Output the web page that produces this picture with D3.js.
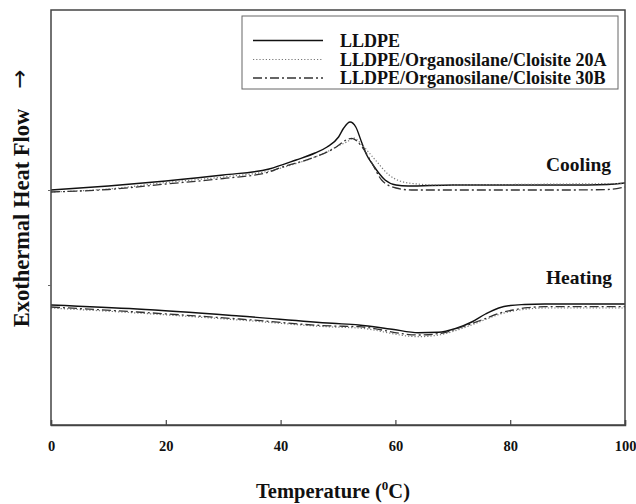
<!DOCTYPE html>
<html>
<head>
<meta charset="utf-8">
<script src="https://cdn.jsdelivr.net/npm/d3@7"></script>
<style>
  html, body { margin: 0; padding: 0; background: #fff; }
  svg { display: block; }
  text { font-family: "Liberation Serif", "Times New Roman", serif; font-weight: bold; fill: #111; }
</style>
</head>
<body>
<svg id="chart" width="636" height="504"></svg>
<script>
// ---------------- data (temperature in °C, heat flow in arbitrary units) ----------------
const seriesNames = ["LLDPE", "LLDPE/Organosilane/Cloisite 20A", "LLDPE/Organosilane/Cloisite 30B"];
const xTicks = [0, 20, 40, 60, 80, 100];

// Cooling curves
const coolLLDPE = [[0,235],[10,239],[20,244],[30,250],[38,256],[42.7,265],[46,272],[48.1,278],[50.1,288],[51,297],[52.1,303],[53.1,298],[54.1,283],[55,270],[56.1,260],[57.1,252],[58.2,245],[60.1,240],[62.2,239],[70,240],[80,240],[90,240],[97,240.5],[100,242]];
const cool20A   = [[0,233],[10,236],[20,242.5],[30,248],[38,254],[43,262],[46,268],[48,273],[50,279],[51.5,283],[52.8,287],[54.2,280],[56.5,265],[58.9,250],[62.3,242],[67.5,240],[80,240.5],[90,241],[100,241.5]];
const cool30B   = [[0,233],[10,235.5],[20,241],[30,246.5],[38,253],[39.8,257],[45.5,267],[49.7,278],[51.4,285],[52.4,286.7],[54.2,278],[55.9,262],[57.6,245],[60.1,237],[62.8,235],[75,235],[90,235],[97,235.5],[100,238]];

// Heating curves
const heatLLDPE = [[0,120],[15,116],[32.8,109],[49,101.7],[53.6,100],[59.4,95.7],[64,92.3],[67.5,92.7],[70.5,96.5],[73.3,103],[75.7,111],[78,117],[80,119.5],[82.5,120.5],[86,121],[100,121]];
const heat20A   = [[0,117],[15,112],[32.8,105],[49,98],[53.6,97],[64,88.3],[68,90.5],[71.6,96.5],[75.7,105.5],[78,110.5],[80.5,114],[83,116],[86,117],[100,117]];
const heat30B   = [[0,118],[15,113],[32.8,106],[49,99],[53.6,98.3],[64,90],[68.2,92],[71.6,98],[75.7,106.5],[78,111.5],[80.5,115],[83,117.3],[86,118.3],[100,118.3]];

const yTicks = [235, 140];

// ---------------- chart ----------------
const svg = d3.select("#chart");
const L = 51, R = 625, T = 10, B = 425;

const x = d3.scaleLinear().domain([0, 100]).range([L, R]);
const y = d3.scaleLinear().domain([0, 415]).range([B, T]);

const styles = [
  { stroke: "#111", width: 1.4, dash: null },
  { stroke: "#777", width: 1.2, dash: "1.2,2" },
  { stroke: "#333", width: 1.3, dash: "9,3,2,3" }
];

const line = d3.line()
  .x(d => x(d[0]))
  .y(d => y(d[1]))
  .curve(d3.curveMonotoneX);

const groups = [
  [coolLLDPE, cool20A, cool30B],
  [heatLLDPE, heat20A, heat30B]
];

groups.forEach(g => {
  g.forEach((data, i) => {
    svg.append("path")
      .datum(data)
      .attr("d", line)
      .attr("fill", "none")
      .attr("stroke", styles[i].stroke)
      .attr("stroke-width", styles[i].width)
      .attr("stroke-dasharray", styles[i].dash);
  });
});

// frame
svg.append("rect")
  .attr("x", L).attr("y", T)
  .attr("width", R - L).attr("height", B - T)
  .attr("fill", "none")
  .attr("stroke", "#444")
  .attr("stroke-width", 1.5);

// x axis (ticks inside)
const xAxis = svg.append("g")
  .attr("transform", `translate(0,${B})`)
  .call(d3.axisBottom(x).tickValues(xTicks).tickSize(-5).tickPadding(16).tickFormat(d3.format("d")));
xAxis.select(".domain").attr("stroke", "#444").attr("stroke-width", 1.5);
xAxis.selectAll(".tick line").attr("stroke", "#444").attr("stroke-width", 1.2);
xAxis.selectAll(".tick text")
  .attr("font-family", "Liberation Serif, serif")
  .attr("font-weight", "bold")
  .attr("font-size", 14.5)
  .attr("fill", "#111");

// y axis: tiny ticks, no labels
const yAxis = svg.append("g")
  .attr("transform", `translate(${L},0)`)
  .call(d3.axisLeft(y).tickValues(yTicks).tickSize(3).tickFormat(""));
yAxis.select(".domain").remove();
yAxis.selectAll(".tick line").attr("stroke", "#666");

// axis titles
const xt = svg.append("text")
  .attr("x", 333)
  .attr("y", 498)
  .attr("text-anchor", "middle")
  .attr("font-size", 20.5);
xt.append("tspan").text("Temperature (");
xt.append("tspan").attr("font-size", 13).attr("dy", -8).text("0");
xt.append("tspan").attr("dy", 8).text("C)");

svg.append("text")
  .attr("transform", `translate(29,218) rotate(-90)`)
  .attr("text-anchor", "middle")
  .attr("font-size", 22.5)
  .text("Exothermal Heat Flow");
svg.append("text")
  .attr("transform", `translate(27,79) rotate(-90)`)
  .attr("text-anchor", "middle")
  .attr("font-size", 23)
  .style("font-family", "'DejaVu Sans', sans-serif")
  .style("font-weight", "normal")
  .text("\u2192");

// region labels
svg.append("text").attr("x", 611).attr("y", 171).attr("text-anchor", "end").attr("font-size", 19.5).text("Cooling");
svg.append("text").attr("x", 612).attr("y", 284).attr("text-anchor", "end").attr("font-size", 19.5).text("Heating");

// legend
const lg = svg.append("g");
lg.append("rect")
  .attr("x", 242).attr("y", 16)
  .attr("width", 376).attr("height", 73)
  .attr("fill", "#fff")
  .attr("stroke", "#666")
  .attr("stroke-width", 1);
const rowY = [40.5, 59.5, 78];
seriesNames.forEach((name, i) => {
  lg.append("line")
    .attr("x1", 253).attr("x2", 323)
    .attr("y1", rowY[i]).attr("y2", rowY[i])
    .attr("stroke", styles[i].stroke)
    .attr("stroke-width", styles[i].width)
    .attr("stroke-dasharray", styles[i].dash);
  lg.append("text")
    .attr("x", 340).attr("y", rowY[i] + 6)
    .attr("font-size", 18)
    .text(name);
});
</script>
</body>
</html>
